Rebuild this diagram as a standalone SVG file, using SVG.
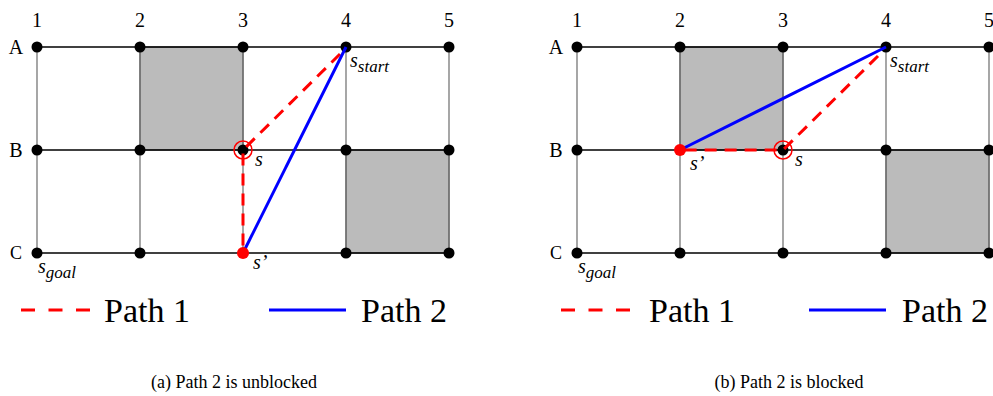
<svg xmlns="http://www.w3.org/2000/svg" width="993" height="396" viewBox="0 0 993 396" font-family="'Liberation Serif', 'Times New Roman', serif">
<style>
.bg{fill:#fff}
.blk{fill:#bbbbbb;stroke:#555;stroke-width:1.3}
.h{stroke:#000;stroke-width:1.3}
.v{stroke:#777;stroke-width:1.3}
.dot{fill:#000}
.p1{stroke:#ff0000;stroke-width:3;stroke-dasharray:12,8;fill:none}
.p2{stroke:#0000ff;stroke-width:3;fill:none}
.ring{fill:none;stroke:#ff0000;stroke-width:1.5}
.rdot{fill:#ff0000}
text{font-family:'Liberation Serif','Times New Roman',serif;fill:#000}
.lab{font-size:20px}
.it{font-style:italic;font-size:20px}
.sub{font-size:17px}
.leg{font-size:34px}
.cap{font-size:18px}
</style>
<rect class="bg" x="0" y="0" width="993" height="396"/>

<g id="panel-a">
  <g id="grid-a">
    <rect class="blk" x="140" y="47" width="103" height="103"/>
    <rect class="blk" x="346" y="150" width="103" height="103"/>
    <line class="v" x1="37" y1="47" x2="37" y2="253"/>
    <line class="v" x1="140" y1="47" x2="140" y2="253"/>
    <line class="v" x1="243" y1="47" x2="243" y2="253"/>
    <line class="v" x1="346" y1="47" x2="346" y2="253"/>
    <line class="v" x1="449" y1="47" x2="449" y2="253"/>
    <line class="h" x1="37" y1="47" x2="449" y2="47"/>
    <line class="h" x1="37" y1="150" x2="449" y2="150"/>
    <line class="h" x1="37" y1="253" x2="449" y2="253"/>
  </g>
  <g id="nodes-a">
    <circle class="dot" cx="37" cy="47" r="5.5"/><circle class="dot" cx="140" cy="47" r="5.5"/><circle class="dot" cx="243" cy="47" r="5.5"/><circle class="dot" cx="346" cy="47" r="5.5"/><circle class="dot" cx="449" cy="47" r="5.5"/>
    <circle class="dot" cx="37" cy="150" r="5.5"/><circle class="dot" cx="140" cy="150" r="5.5"/><circle class="dot" cx="243" cy="150" r="5.5"/><circle class="dot" cx="346" cy="150" r="5.5"/><circle class="dot" cx="449" cy="150" r="5.5"/>
    <circle class="dot" cx="37" cy="253" r="5.5"/><circle class="dot" cx="140" cy="253" r="5.5"/><circle class="dot" cx="346" cy="253" r="5.5"/><circle class="dot" cx="449" cy="253" r="5.5"/>
  </g>
  <g id="connectors-a">
    <polyline class="p1" points="340,54 243,150 243,253"/>
    <line class="p2" x1="346" y1="47" x2="243" y2="253"/>
    <circle class="ring" cx="243" cy="150" r="9"/>
    <circle class="rdot" cx="243" cy="253" r="6"/>
  </g>
  <g id="labels-a">
    <text class="lab" x="37" y="27" text-anchor="middle">1</text>
    <text class="lab" x="140" y="27" text-anchor="middle">2</text>
    <text class="lab" x="243" y="27" text-anchor="middle">3</text>
    <text class="lab" x="346" y="27" text-anchor="middle">4</text>
    <text class="lab" x="449" y="27" text-anchor="middle">5</text>
    <text class="lab" x="16" y="54" text-anchor="middle">A</text>
    <text class="lab" x="16" y="157" text-anchor="middle">B</text>
    <text class="lab" x="16" y="259" text-anchor="middle" style="font-size:18px">C</text>
    <text class="it" x="350" y="67">s<tspan class="sub" dy="5">start</tspan></text>
    <text class="it" x="255" y="166">s</text>
    <text class="it" x="253" y="269">s’</text>
    <text class="it" x="38" y="273">s<tspan class="sub" dy="5">goal</tspan></text>
  </g>
  <g id="legend-a">
    <line class="p1" x1="21" y1="310" x2="90" y2="310" style="stroke-dasharray:14,13.5"/>
    <text class="leg" x="104" y="322">Path 1</text>
    <line class="p2" x1="269" y1="310" x2="346" y2="310"/>
    <text class="leg" x="361" y="322">Path 2</text>
  </g>
  <text class="cap" x="234" y="388" text-anchor="middle">(a)  Path 2 is unblocked</text>
</g>

<g id="panel-b">
  <g id="grid-b">
    <rect class="blk" x="680" y="47" width="103" height="103"/>
    <rect class="blk" x="886" y="150" width="103" height="103"/>
    <line class="v" x1="577" y1="47" x2="577" y2="253"/>
    <line class="v" x1="680" y1="47" x2="680" y2="253"/>
    <line class="v" x1="783" y1="47" x2="783" y2="253"/>
    <line class="v" x1="886" y1="47" x2="886" y2="253"/>
    <line class="v" x1="989" y1="47" x2="989" y2="253"/>
    <line class="h" x1="577" y1="47" x2="989" y2="47"/>
    <line class="h" x1="577" y1="150" x2="989" y2="150"/>
    <line class="h" x1="577" y1="253" x2="989" y2="253"/>
  </g>
  <g id="nodes-b">
    <circle class="dot" cx="577" cy="47" r="5.5"/><circle class="dot" cx="680" cy="47" r="5.5"/><circle class="dot" cx="783" cy="47" r="5.5"/><circle class="dot" cx="886" cy="47" r="5.5"/><circle class="dot" cx="989" cy="47" r="5.5"/>
    <circle class="dot" cx="577" cy="150" r="5.5"/><circle class="dot" cx="783" cy="150" r="5.5"/><circle class="dot" cx="886" cy="150" r="5.5"/><circle class="dot" cx="989" cy="150" r="5.5"/>
    <circle class="dot" cx="577" cy="253" r="5.5"/><circle class="dot" cx="680" cy="253" r="5.5"/><circle class="dot" cx="783" cy="253" r="5.5"/><circle class="dot" cx="886" cy="253" r="5.5"/><circle class="dot" cx="989" cy="253" r="5.5"/>
  </g>
  <g id="connectors-b">
    <polyline class="p1" points="878,56 783,150 680,150"/>
    <line class="p2" x1="886" y1="47" x2="680" y2="150"/>
    <circle class="ring" cx="783" cy="150" r="9"/>
    <circle class="rdot" cx="680" cy="150" r="6"/>
  </g>
  <g id="labels-b">
    <text class="lab" x="577" y="27" text-anchor="middle">1</text>
    <text class="lab" x="680" y="27" text-anchor="middle">2</text>
    <text class="lab" x="783" y="27" text-anchor="middle">3</text>
    <text class="lab" x="886" y="27" text-anchor="middle">4</text>
    <text class="lab" x="989" y="27" text-anchor="middle">5</text>
    <text class="lab" x="556" y="54" text-anchor="middle">A</text>
    <text class="lab" x="556" y="157" text-anchor="middle">B</text>
    <text class="lab" x="556" y="259" text-anchor="middle" style="font-size:18px">C</text>
    <text class="it" x="890" y="67">s<tspan class="sub" dy="5">start</tspan></text>
    <text class="it" x="795" y="166">s</text>
    <text class="it" x="690" y="170">s’</text>
    <text class="it" x="578" y="273">s<tspan class="sub" dy="5">goal</tspan></text>
  </g>
  <g id="legend-b">
    <line class="p1" x1="561" y1="310" x2="630" y2="310" style="stroke-dasharray:14,13.5"/>
    <text class="leg" x="649" y="322">Path 1</text>
    <line class="p2" x1="809" y1="310" x2="886" y2="310"/>
    <text class="leg" x="902" y="322">Path 2</text>
  </g>
  <text class="cap" x="789" y="388" text-anchor="middle">(b)  Path 2 is blocked</text>
</g>
</svg>
